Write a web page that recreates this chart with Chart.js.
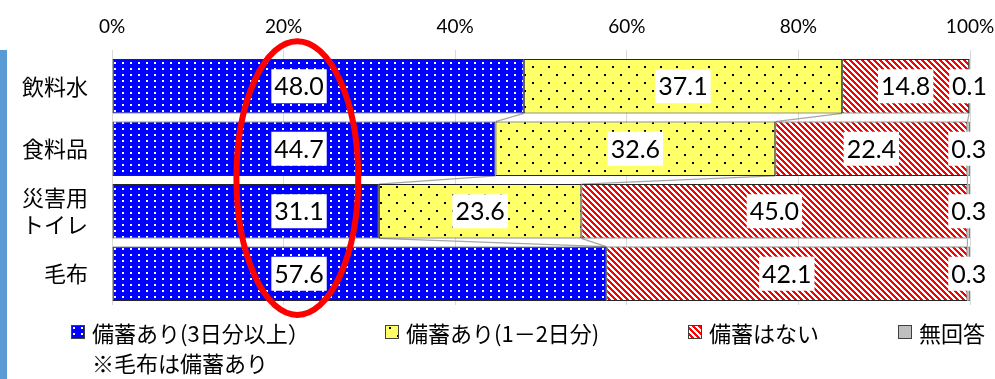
<!DOCTYPE html>
<html>
<head>
<meta charset="utf-8">
<script src="https://cdn.jsdelivr.net/npm/chart.js@4.4.0/dist/chart.umd.min.js"></script>
<style>
body{margin:0;background:#fff;font-family:"Noto Sans CJK JP",sans-serif;}
#wrap{position:relative;width:995px;height:379px;overflow:hidden;}
#side{position:absolute;left:0;top:50px;width:7px;height:329px;background:#5b9bd5;}
.leg{position:absolute;top:319px;height:26px;font-size:22px;line-height:26px;color:#000;white-space:nowrap;}
.leg canvas{position:absolute;left:0;top:6px;}
.leg span{position:absolute;top:0;left:21px;}
#note{position:absolute;left:92px;top:348px;font-size:22px;line-height:28px;}
</style>
</head>
<body>
<div id="wrap">
  <canvas id="mycanvas" width="995" height="379"></canvas>
  <div id="side"></div>
  <div id="legend"></div>
  <div id="note">※毛布は備蓄あり</div>
</div>
<script>
var categories = [['飲料水'], ['食料品'], ['災害用', 'トイレ'], ['毛布']];
var seriesNames = ['備蓄あり(3日分以上）', '備蓄あり(1－2日分)', '備蓄はない', '無回答'];
var stock3 = [48.0, 44.7, 31.1, 57.6];
var stock12 = [37.1, 32.6, 23.6, 0];
var noStock = [14.8, 22.4, 45.0, 42.1];
var noAnswer = [0.1, 0.3, 0.3, 0.3];
var tickValues = [0, 20, 40, 60, 80, 100];

function makePattern(kind) {
	var c = document.createElement('canvas');
	var g;
	if (kind == 'blue') {
		c.width = 8; c.height = 6;
		g = c.getContext('2d');
		g.fillStyle = '#0000ff'; g.fillRect(0, 0, 8, 6);
		g.fillStyle = '#ffffff'; g.fillRect(2, 2, 2, 2);
	} else if (kind == 'yellow') {
		c.width = 16; c.height = 16;
		g = c.getContext('2d');
		g.fillStyle = '#ffff66'; g.fillRect(0, 0, 16, 16);
		g.fillStyle = '#000000';
		g.fillRect(4, 2, 2, 2);
		g.fillRect(12, 10, 2, 2);
	} else if (kind == 'red') {
		c.width = 6; c.height = 6;
		g = c.getContext('2d');
		g.fillStyle = '#ff0000'; g.fillRect(0, 0, 6, 6);
		g.fillStyle = '#ffffff';
		for (var x = 0; x < 6; x++) {
			for (var y = 0; y < 6; y++) {
				if (((x - y + 12) % 6) < 3) g.fillRect(x, y, 1, 1);
			}
		}
	} else {
		c.width = 2; c.height = 2;
		g = c.getContext('2d');
		g.fillStyle = '#bfbfbf'; g.fillRect(0, 0, 2, 2);
	}
	return c;
}

var ctx = document.getElementById('mycanvas').getContext('2d');
var kinds = ['blue', 'yellow', 'red', 'gray'];
var fills = kinds.map(function(k){ return ctx.createPattern(makePattern(k), 'repeat'); });

// legend
var legendX = [71, 385, 688, 898];
var legendHtml = '';
for (var i = 0; i < 4; i++) {
	legendHtml += '<div class="leg" style="left:' + legendX[i] + 'px"><canvas id="sw' + i + '" width="14" height="14"></canvas><span>' + seriesNames[i] + '</span></div>';
}
document.getElementById('legend').innerHTML = legendHtml;
for (var i = 0; i < 4; i++) {
	var sc = document.getElementById('sw' + i).getContext('2d');
	sc.fillStyle = sc.createPattern(makePattern(kinds[i]), 'repeat');
	sc.fillRect(0, 0, 14, 14);
	sc.strokeStyle = '#404040';
	sc.lineWidth = 1;
	sc.strokeRect(0.5, 0.5, 13, 13);
}

// white-boxed value labels (the first series is placed inside the ellipse)
var labelSpot = 21.8;
var valueLabels = {
	id: 'valueLabels',
	afterDatasetsDraw: function(chart) {
		var c = chart.ctx;
		c.save();
		c.font = '25px Lato, "Noto Sans CJK JP"';
		c.textAlign = 'center';
		c.textBaseline = 'middle';
		chart.data.datasets.forEach(function(ds, d) {
			var meta = chart.getDatasetMeta(d);
			meta.data.forEach(function(bar, i) {
				var v = ds.data[i];
				if (!v) return;
				var txt = v.toFixed(1);
				var cx = d == 0 ? chart.scales.x.getPixelForValue(labelSpot) : (bar.x + bar.base) / 2;
				var w = c.measureText(txt).width + 6;
				c.fillStyle = '#ffffff';
				c.fillRect(cx - w / 2, bar.y - 17, w, 34);
				c.fillStyle = '#000000';
				c.fillText(txt, cx, bar.y + 1);
			});
		});
		c.restore();
	}
};

// series lines between bars
var seriesLines = {
	id: 'seriesLines',
	beforeDatasetsDraw: function(chart) {
		var c = chart.ctx;
		c.save();
		c.strokeStyle = '#a6a6a6';
		c.lineWidth = 1.2;
		for (var d = 0; d < 3; d++) {
			var meta = chart.getDatasetMeta(d);
			for (var i = 0; i < meta.data.length - 1; i++) {
				var a = meta.data[i], b = meta.data[i + 1];
				c.beginPath();
				c.moveTo(a.x, a.y + a.height / 2);
				c.lineTo(b.x, b.y - b.height / 2);
				c.stroke();
			}
		}
		c.restore();
	}
};

// red ellipse marking the 3-day column
var ellipseMark = {
	id: 'ellipseMark',
	afterDraw: function(chart) {
		var xs = chart.scales.x, ys = chart.scales.y;
		var cx = xs.getPixelForValue(21.6);
		var cy = ys.getPixelForValue(1.5) - 2;
		var rx = xs.getPixelForValue(7.1) - xs.getPixelForValue(0);
		var ry = (ys.getPixelForValue(3) - ys.getPixelForValue(0)) * 0.73;
		var c = chart.ctx;
		c.save();
		c.strokeStyle = '#ff0000';
		c.lineWidth = 6;
		c.beginPath();
		c.ellipse(cx, cy, rx, ry, 0, 0, Math.PI * 2);
		c.stroke();
		c.restore();
	}
};

var series = [stock3, stock12, noStock, noAnswer];
var chartdata = {
	labels: categories,
	datasets: series.map(function(vals, k) {
		return {
			label: seriesNames[k],
			data: vals,
			backgroundColor: fills[k],
			borderColor: k == 3 ? '#7f7f7f' : '#262626',
			borderWidth: 1,
			borderSkipped: false,
			barPercentage: 0.87,
			categoryPercentage: 1.0
		};
	})
};

var barGraph = new Chart(ctx, {
	type: 'bar',
	data: chartdata,
	plugins: [seriesLines, valueLabels, ellipseMark],
	options: {
		indexAxis: 'y',
		responsive: false,
		animation: false,
		layout: { padding: { left: 0, right: 25, top: 10, bottom: 74 } },
		plugins: {
			legend: { display: false },
			tooltip: { enabled: false }
		},
		scales: {
			x: {
				position: 'top',
				stacked: true,
				min: 0,
				max: 100,
				afterBuildTicks: function(axis) {
					axis.ticks = tickValues.map(function(v){ return { value: v }; });
				},
				afterFit: function(axis) {
					axis.height = 45;
					axis.paddingLeft = 0;
					axis.paddingRight = 0;
				},
				ticks: {
					callback: function(v) { return v + '%'; },
					font: { family: 'Lato', size: 19 },
					color: '#000',
					padding: 12,
					maxRotation: 0
				},
				grid: { color: '#d9d9d9', tickLength: 5, drawTicks: true },
				border: { display: false }
			},
			y: {
				stacked: true,
				afterFit: function(axis) { axis.width = 112; },
				ticks: {
					font: { family: '"Noto Sans CJK JP"', size: 22 },
					color: '#000',
					padding: 24,
					autoSkip: false
				},
				grid: { display: false, drawTicks: false },
				border: { display: false }
			}
		}
	}
});
</script>
</body>
</html>
